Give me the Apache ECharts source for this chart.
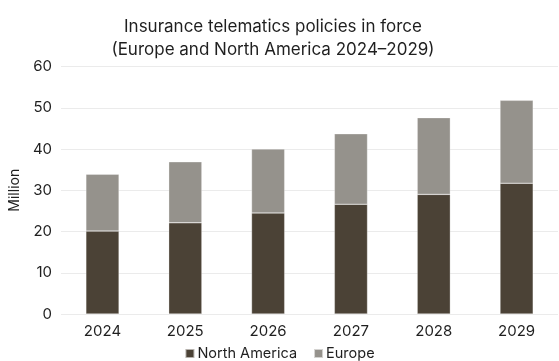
<!DOCTYPE html>
<html>
<head>
<meta charset="utf-8">
<script src="https://cdn.jsdelivr.net/npm/echarts@6/dist/echarts.min.js"></script>
<style>
  html, body { margin: 0; padding: 0; background: #ffffff; }
  #chart { width: 559px; height: 361px; }
</style>
</head>
<body>
<div id="chart"></div>
<script>
// 数据
const years = ['2024', '2025', '2026', '2027', '2028', '2029'];
const northAmerica = [20.1, 22.1, 24.5, 26.6, 29.0, 31.7];
const europe = [13.8, 14.8, 15.5, 17.1, 18.6, 20.1];
const yTicks = [0, 10, 20, 30, 40, 50, 60];

const font = 'Inter, "Noto Sans", sans-serif';
const textColor = '#1f1f1f';

const myChart = echarts.init(document.getElementById('chart'), null, { renderer: 'canvas' });

const option = {
  animation: false,
  title: {
    text: 'Insurance telematics policies in force\n(Europe and North America 2024\u20132029)',
    left: 268,
    top: 10,
    textAlign: 'center',
    textStyle: {
      color: textColor,
      fontFamily: font,
      fontSize: 17,
      fontWeight: 'normal',
      lineHeight: 23
    }
  },
  legend: {
    data: ['North America', 'Europe'],
    bottom: -5,
    left: 'center',
    itemWidth: 9,
    itemHeight: 9,
    itemGap: 16,
    icon: 'rect',
    textStyle: {
      color: textColor,
      fontFamily: font,
      fontSize: 14.5,
      padding: [0, 0, 0, -2]
    }
  },
  grid: {
    left: 60,
    right: 1,
    top: 66.5,
    bottom: 47
  },
  xAxis: {
    type: 'category',
    data: years,
    axisLine: { show: false },
    axisTick: { show: false },
    axisLabel: {
      color: textColor,
      fontFamily: font,
      fontSize: 15,
      margin: 10
    }
  },
  yAxis: {
    type: 'value',
    min: yTicks[0],
    max: yTicks[yTicks.length - 1],
    interval: 10,
    name: 'Million',
    nameLocation: 'middle',
    nameGap: 32,
    nameTextStyle: {
      color: textColor,
      fontFamily: font,
      fontSize: 14
    },
    axisLabel: {
      color: textColor,
      fontFamily: font,
      fontSize: 15,
      margin: 9
    },
    splitLine: {
      lineStyle: { color: '#ebebeb', width: 1 }
    }
  },
  series: [
    {
      name: 'North America',
      type: 'bar',
      stack: 'total',
      barWidth: '40%',
      data: northAmerica,
      itemStyle: {
        color: '#4b4236',
        borderColor: 'rgba(255,255,255,0.6)',
        borderWidth: 0.5
      }
    },
    {
      name: 'Europe',
      type: 'bar',
      stack: 'total',
      barWidth: '40%',
      data: europe,
      itemStyle: {
        color: '#95928c',
        borderColor: 'rgba(255,255,255,0.6)',
        borderWidth: 0.5
      }
    }
  ]
};

myChart.setOption(option);
</script>
</body>
</html>
